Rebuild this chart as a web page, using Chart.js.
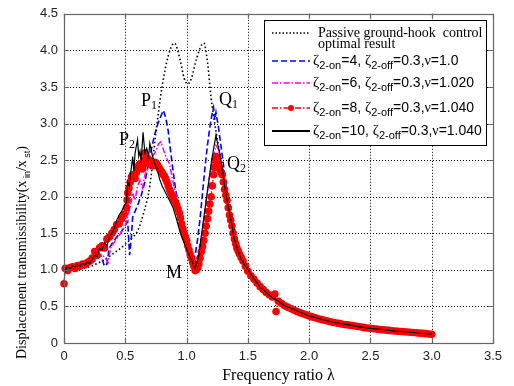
<!DOCTYPE html>
<html>
<head>
<meta charset="utf-8">
<script src="https://cdn.jsdelivr.net/npm/chart.js@4/dist/chart.umd.min.js"></script>
<style>
  html, body { margin: 0; padding: 0; background: #fff; }
  #wrap { width: 514px; height: 386px; }
</style>
</head>
<body>
<div id="wrap"><canvas id="chart" width="514" height="386"></canvas></div>
<script>
// Frequency ratio (lambda) and transmissibility values
const passiveLambda = [0, 0.1, 0.2, 0.25, 0.3, 0.35, 0.4, 0.45, 0.5, 0.55, 0.6, 0.65, 0.7, 0.75, 0.8, 0.85, 0.9, 0.95, 0.98, 1.01, 1.04, 1.08, 1.14, 1.17, 1.2, 1.23, 1.26, 1.3, 1.35, 1.4, 1.45, 1.5, 1.6, 1.7, 1.8, 2.0, 2.2, 2.5, 2.8, 3.0];
const passiveT = [1.0, 1.01, 1.04, 1.07, 1.11, 1.16, 1.22, 1.28, 1.35, 1.43, 1.53, 1.78, 2.15, 2.88, 3.5, 3.92, 4.1, 3.85, 3.62, 3.54, 3.62, 3.88, 4.1, 3.85, 3.35, 3.0, 2.7, 2.35, 1.9, 1.5, 1.2, 1.0, 0.77, 0.62, 0.51, 0.37, 0.28, 0.2, 0.15, 0.12];

const blueLambda = [0, 0.05, 0.1, 0.15, 0.2, 0.25, 0.3, 0.33, 0.35, 0.37, 0.4, 0.43, 0.46, 0.49, 0.52, 0.535, 0.55, 0.56, 0.6, 0.63, 0.66, 0.7, 0.74, 0.77, 0.79, 0.81, 0.83, 0.85, 0.87, 0.89, 0.91, 0.94, 0.97, 1.0, 1.03, 1.05, 1.07, 1.09, 1.11, 1.13, 1.15, 1.17, 1.19, 1.21, 1.22, 1.23, 1.24, 1.26, 1.28, 1.3, 1.33, 1.36, 1.4, 1.45, 1.5, 1.6, 1.7, 1.8, 2.0, 2.2, 2.5, 2.8, 3.0];
const blueT = [1.0, 1.02, 1.04, 1.06, 1.08, 1.12, 1.2, 1.05, 1.08, 1.3, 1.38, 1.45, 1.5, 1.58, 1.66, 1.2, 1.45, 1.72, 1.88, 2.02, 2.2, 2.55, 2.85, 3.02, 3.1, 3.18, 3.08, 2.9, 2.62, 2.35, 2.1, 1.85, 1.6, 1.35, 1.18, 1.12, 1.2, 1.42, 1.7, 2.05, 2.4, 2.7, 2.95, 3.15, 3.22, 3.05, 3.15, 2.95, 2.7, 2.45, 2.05, 1.7, 1.4, 1.15, 1.0, 0.77, 0.62, 0.51, 0.37, 0.28, 0.2, 0.15, 0.12];

const magentaLambda = [0, 0.05, 0.1, 0.15, 0.2, 0.25, 0.3, 0.33, 0.36, 0.38, 0.41, 0.44, 0.47, 0.5, 0.52, 0.54, 0.56, 0.58, 0.6, 0.62, 0.64, 0.66, 0.69, 0.72, 0.75, 0.77, 0.79, 0.81, 0.83, 0.86, 0.89, 0.92, 0.95, 0.98, 1.01, 1.04, 1.07, 1.1, 1.13, 1.16, 1.19, 1.22, 1.24, 1.26, 1.28, 1.31, 1.34, 1.38, 1.43, 1.5, 1.6, 1.7, 1.8, 2.0, 2.2, 2.5, 2.8, 3.0];
const magentaT = [1.0, 1.02, 1.04, 1.06, 1.09, 1.13, 1.2, 1.18, 1.1, 1.3, 1.38, 1.45, 1.52, 1.6, 1.75, 1.85, 2.05, 1.95, 2.15, 2.22, 2.12, 2.3, 2.4, 2.55, 2.62, 2.72, 2.75, 2.65, 2.55, 2.45, 2.2, 1.95, 1.7, 1.47, 1.3, 1.15, 1.08, 1.22, 1.55, 1.95, 2.3, 2.55, 2.7, 2.65, 2.45, 2.15, 1.85, 1.5, 1.2, 0.95, 0.77, 0.62, 0.51, 0.37, 0.28, 0.2, 0.15, 0.12];

const redLambda = [0, 0.01, 0.03, 0.05, 0.07, 0.09, 0.11, 0.13, 0.15, 0.17, 0.19, 0.21, 0.23, 0.25, 0.27, 0.29, 0.31, 0.33, 0.35, 0.37, 0.39, 0.41, 0.43, 0.45, 0.47, 0.49, 0.51, 0.515, 0.52, 0.53, 0.54, 0.55, 0.56, 0.57, 0.58, 0.59, 0.6, 0.61, 0.62, 0.63, 0.64, 0.65, 0.66, 0.67, 0.68, 0.69, 0.7, 0.71, 0.72, 0.73, 0.74, 0.75, 0.76, 0.77, 0.78, 0.79, 0.8, 0.81, 0.82, 0.83, 0.84, 0.85, 0.86, 0.87, 0.88, 0.89, 0.9, 0.91, 0.92, 0.93, 0.94, 0.95, 0.96, 0.97, 0.98, 0.99, 1.0, 1.01, 1.02, 1.03, 1.04, 1.05, 1.06, 1.07, 1.08, 1.09, 1.1, 1.11, 1.12, 1.13, 1.14, 1.15, 1.16, 1.17, 1.18, 1.19, 1.2, 1.21, 1.22, 1.225, 1.23, 1.24, 1.25, 1.26, 1.27, 1.28, 1.29, 1.3, 1.31, 1.32, 1.33, 1.34, 1.35, 1.36, 1.37, 1.38, 1.39, 1.4, 1.41, 1.42, 1.43, 1.445, 1.46, 1.48, 1.5, 1.525, 1.55, 1.575, 1.6, 1.625, 1.65, 1.675, 1.7, 1.72, 1.73, 1.75, 1.775, 1.8, 1.825, 1.85, 1.875, 1.9, 1.925, 1.95, 1.975, 2.0, 2.025, 2.05, 2.075, 2.1, 2.125, 2.15, 2.175, 2.2, 2.225, 2.25, 2.275, 2.3, 2.325, 2.35, 2.375, 2.4, 2.425, 2.45, 2.475, 2.5, 2.525, 2.55, 2.575, 2.6, 2.625, 2.65, 2.675, 2.7, 2.725, 2.75, 2.775, 2.8, 2.825, 2.85, 2.875, 2.9, 2.925, 2.95, 2.975, 3.0];
const redT = [0.81, 1.02, 0.99, 1.03, 1.04, 1.02, 1.06, 1.05, 1.08, 1.07, 1.1, 1.12, 1.16, 1.25, 1.2, 1.3, 1.33, 1.3, 1.42, 1.45, 1.5, 1.55, 1.62, 1.63, 1.7, 1.76, 1.85, 1.95, 2.05, 2.12, 2.2, 2.27, 2.3, 2.28, 2.25, 2.33, 2.4, 2.43, 2.45, 2.4, 2.38, 2.5, 2.6, 2.52, 2.45, 2.48, 2.5, 2.46, 2.42, 2.45, 2.47, 2.46, 2.44, 2.41, 2.38, 2.35, 2.33, 2.3, 2.28, 2.24, 2.2, 2.15, 2.1, 2.06, 2.02, 1.98, 1.95, 1.92, 1.88, 1.83, 1.78, 1.71, 1.63, 1.56, 1.5, 1.45, 1.4, 1.33, 1.27, 1.21, 1.16, 1.1, 1.05, 0.99, 1.0, 1.03, 1.08, 1.16, 1.25, 1.32, 1.4, 1.5, 1.6, 1.7, 1.8, 1.9, 2.0, 2.15, 2.3, 2.4, 2.5, 2.55, 2.48, 2.43, 2.38, 2.34, 2.3, 2.2, 2.1, 2.02, 1.95, 1.85, 1.75, 1.68, 1.6, 1.5, 1.42, 1.36, 1.3, 1.26, 1.22, 1.17, 1.12, 1.05, 0.98, 0.92, 0.87, 0.82, 0.77, 0.73, 0.69, 0.66, 0.63, 0.67, 0.43, 0.57, 0.54, 0.51, 0.49, 0.47, 0.45, 0.43, 0.415, 0.4, 0.385, 0.37, 0.357, 0.345, 0.332, 0.32, 0.31, 0.3, 0.29, 0.28, 0.272, 0.265, 0.257, 0.25, 0.245, 0.24, 0.232, 0.225, 0.218, 0.21, 0.205, 0.2, 0.195, 0.19, 0.185, 0.18, 0.176, 0.172, 0.168, 0.165, 0.161, 0.157, 0.153, 0.15, 0.146, 0.143, 0.139, 0.135, 0.131, 0.128, 0.124, 0.12];

const blackLambda = [0, 0.01, 0.03, 0.05, 0.07, 0.09, 0.11, 0.13, 0.15, 0.17, 0.19, 0.21, 0.23, 0.25, 0.27, 0.29, 0.31, 0.33, 0.35, 0.37, 0.39, 0.41, 0.43, 0.45, 0.47, 0.49, 0.51, 0.52, 0.53, 0.55, 0.56, 0.57, 0.58, 0.6, 0.61, 0.62, 0.63, 0.645, 0.66, 0.675, 0.69, 0.7, 0.72, 0.74, 0.76, 0.78, 0.8, 0.83, 0.86, 0.89, 0.92, 0.95, 0.98, 1.01, 1.04, 1.07, 1.08, 1.1, 1.12, 1.14, 1.16, 1.18, 1.2, 1.22, 1.24, 1.25, 1.27, 1.29, 1.31, 1.33, 1.36, 1.39, 1.42, 1.45, 1.5, 1.55, 1.6, 1.65, 1.7, 1.75, 1.8, 1.9, 2.0, 2.1, 2.2, 2.3, 2.4, 2.5, 2.6, 2.7, 2.8, 2.9, 3.0];
const blackT = [0.9, 1.0, 1.04, 1.02, 1.06, 1.04, 1.07, 1.05, 1.09, 1.07, 1.1, 1.09, 1.15, 1.2, 1.18, 1.3, 1.27, 1.37, 1.33, 1.45, 1.5, 1.56, 1.68, 1.75, 1.8, 1.87, 1.93, 2.2, 2.15, 2.4, 2.55, 2.35, 2.6, 2.78, 2.55, 2.62, 2.5, 2.88, 2.6, 2.66, 2.55, 2.73, 2.57, 2.45, 2.38, 2.24, 2.15, 2.05, 1.95, 1.85, 1.68, 1.5, 1.37, 1.24, 1.13, 1.02, 1.08, 1.2, 1.45, 1.7, 1.95, 2.2, 2.45, 2.65, 2.84, 2.75, 2.6, 2.4, 2.15, 1.95, 1.7, 1.42, 1.25, 1.13, 1.0, 0.88, 0.76, 0.69, 0.62, 0.57, 0.51, 0.44, 0.37, 0.325, 0.28, 0.255, 0.225, 0.2, 0.182, 0.163, 0.15, 0.133, 0.12];

const xTicksMax = 3.5;
const yTicksMax = 4.5;

const serif = '"Liberation Serif", "Times New Roman", serif';
const sans = '"Liberation Sans", Arial, Helvetica, sans-serif';

function pairs(xs, ys) {
    return xs.map((x, i) => ({ x: x, y: ys[i] }));
}

// draws a run of text pieces [text, font, dy] and returns the end x
function drawRich(ctx, parts, x, y) {
    parts.forEach(p => {
        ctx.font = p[1];
        ctx.fillText(p[0], x, y + (p[2] || 0));
        x += ctx.measureText(p[0]).width;
    });
    return x;
}

function zetaRow(on, nu) {
    return [
        ['\u03B6', '15px ' + serif],
        ['2-on', '11px ' + sans, 4],
        ['=' + on + ', ', '14px ' + sans],
        ['\u03B6', '15px ' + serif],
        ['2-off', '11px ' + sans, 4],
        ['=0.3,', '14px ' + sans],
        ['\u03BD', '14px ' + serif],
        ['=' + nu, '14px ' + sans]
    ];
}

// grid, box, inward ticks, legend, axis titles and point labels
const decorations = {
    id: 'decorations',
    beforeDatasetsDraw(chart) {
        const { ctx, chartArea: a, scales: { x, y } } = chart;
        ctx.save();
        ctx.strokeStyle = '#000';
        ctx.lineWidth = 1;
        ctx.setLineDash([1, 2]);
        x.ticks.forEach(t => {
            if (t.value <= 0 || t.value >= xTicksMax) return;
            const px = Math.round(x.getPixelForValue(t.value)) + 0.5;
            ctx.beginPath(); ctx.moveTo(px, a.top); ctx.lineTo(px, a.bottom); ctx.stroke();
        });
        y.ticks.forEach(t => {
            if (t.value <= 0 || t.value >= yTicksMax) return;
            const py = Math.round(y.getPixelForValue(t.value)) + 0.5;
            ctx.beginPath(); ctx.moveTo(a.left, py); ctx.lineTo(a.right, py); ctx.stroke();
        });
        ctx.restore();
    },
    afterDraw(chart) {
        const { ctx, chartArea: a, scales: { x, y } } = chart;
        ctx.save();

        // axes box and inward ticks
        ctx.strokeStyle = '#666';
        ctx.lineWidth = 1.2;
        ctx.strokeRect(Math.round(a.left) + 0.5, Math.round(a.top) + 0.5, Math.round(a.width), Math.round(a.height));
        ctx.beginPath();
        x.ticks.forEach(t => {
            const px = Math.round(x.getPixelForValue(t.value)) + 0.5;
            ctx.moveTo(px, a.bottom); ctx.lineTo(px, a.bottom - 5);
            ctx.moveTo(px, a.top); ctx.lineTo(px, a.top + 5);
        });
        y.ticks.forEach(t => {
            const py = Math.round(y.getPixelForValue(t.value)) + 0.5;
            ctx.moveTo(a.left, py); ctx.lineTo(a.left + 5, py);
            ctx.moveTo(a.right, py); ctx.lineTo(a.right - 5, py);
        });
        ctx.stroke();

        // point labels
        ctx.fillStyle = '#000';
        ctx.textAlign = 'left';
        ctx.textBaseline = 'alphabetic';
        const labels = [['P', '1', 141, 106], ['Q', '1', 219, 105], ['P', '2', 119, 145], ['Q', '2', 227, 169], ['M', '', 166, 278]];
        labels.forEach(l => {
            drawRich(ctx, [[l[0], '18px ' + serif], [l[1], '12px ' + serif, 3]], l[2], l[3]);
        });

        // legend
        const lx = 264.5, ly = 20.5, lw = 222, lh = 125;
        ctx.fillStyle = '#fff';
        ctx.fillRect(lx, ly, lw, lh);
        ctx.strokeStyle = '#000';
        ctx.lineWidth = 1;
        ctx.setLineDash([]);
        ctx.strokeRect(lx, ly, lw, lh);

        const samples = [
            { y: 33, color: '#000', dash: [1.5, 2], width: 1.6 },
            { y: 61, color: '#0000ff', dash: [6, 3], width: 1.6 },
            { y: 83, color: '#ff00ff', dash: [6, 2, 1.5, 2], width: 1.5 },
            { y: 108, color: '#ff0000', dash: [6, 2, 1.5, 2], width: 1.5, dot: true },
            { y: 131, color: '#000', dash: [], width: 1.8 }
        ];
        samples.forEach(s => {
            ctx.strokeStyle = s.color;
            ctx.lineWidth = s.width;
            ctx.setLineDash(s.dash);
            ctx.beginPath(); ctx.moveTo(272, s.y); ctx.lineTo(310, s.y); ctx.stroke();
            if (s.dot) {
                ctx.fillStyle = s.color;
                ctx.beginPath(); ctx.arc(291, s.y, 3, 0, Math.PI * 2); ctx.fill();
            }
        });
        ctx.setLineDash([]);
        ctx.fillStyle = '#000';
        ctx.font = '14px ' + serif;
        ctx.fillText('Passive ground-hook  control', 318, 37);
        ctx.fillText('optimal result', 318, 48);
        drawRich(ctx, zetaRow('4', '1.0'), 313, 65);
        drawRich(ctx, zetaRow('6', '1.020'), 313, 87);
        drawRich(ctx, zetaRow('8', '1.040'), 313, 112);
        drawRich(ctx, zetaRow('10', '1.040'), 313, 135);

        // x axis title
        ctx.font = '16px ' + serif;
        ctx.textAlign = 'center';
        ctx.fillText('Frequency ratio \u03BB', (a.left + a.right) / 2, 380);

        // y axis title, rotated
        ctx.translate(26, 359);
        ctx.rotate(-Math.PI / 2);
        ctx.textAlign = 'left';
        drawRich(ctx, [
            ['Displacement transmissibility(x', '14px ' + serif],
            [' in', '9px ' + sans, 4],
            ['/x', '14px ' + serif],
            [' st', '9px ' + sans, 4],
            [')', '14px ' + serif]
        ], 0, 0);
        ctx.restore();
    }
};

const ctx = document.getElementById('chart').getContext('2d');
const chart = new Chart(ctx, {
    type: 'line',
    data: {
        datasets: [
            {
                label: 'zeta2-on=10',
                data: pairs(blackLambda, blackT),
                borderColor: '#000',
                borderWidth: 1.2,
                pointRadius: 0
            },
            {
                label: 'zeta2-on=8',
                data: pairs(redLambda, redT),
                borderColor: '#ff0000',
                borderWidth: 1.4,
                borderDash: [6, 2, 1.5, 2],
                pointRadius: 3.8,
                pointBorderWidth: 0,
                pointBackgroundColor: '#ff0000',
                clip: 6
            },
            {
                label: 'zeta2-on=6',
                data: pairs(magentaLambda, magentaT),
                borderColor: '#ff00ff',
                borderWidth: 1.5,
                borderDash: [6, 2, 1.5, 2],
                pointRadius: 0
            },
            {
                label: 'zeta2-on=4',
                data: pairs(blueLambda, blueT),
                borderColor: '#0000ff',
                borderWidth: 1.6,
                borderDash: [6, 3],
                pointRadius: 0
            },
            {
                label: 'Passive',
                data: pairs(passiveLambda, passiveT),
                borderColor: '#000',
                borderWidth: 1.6,
                borderDash: [1.5, 2.5],
                pointRadius: 0,
                cubicInterpolationMode: 'monotone'
            }
        ]
    },
    options: {
        responsive: false,
        animation: false,
        layout: { padding: { left: 0, right: 21, top: 10, bottom: 0 } },
        plugins: {
            legend: { display: false },
            tooltip: { enabled: false }
        },
        scales: {
            x: {
                type: 'linear',
                min: 0,
                max: xTicksMax,
                afterFit: s => { s.height = 43; },
                grid: { display: false, drawTicks: false },
                border: { display: false },
                ticks: { stepSize: 0.5, padding: 6, color: '#222', font: { family: sans, size: 13 }, maxRotation: 0 }
            },
            y: {
                min: 0,
                max: yTicksMax,
                afterFit: s => { s.width = 64; },
                grid: { display: false, drawTicks: false },
                border: { display: false },
                ticks: { stepSize: 0.5, padding: 6, color: '#222', font: { family: sans, size: 13 } }
            }
        }
    },
    plugins: [decorations]
});
</script>
</body>
</html>
